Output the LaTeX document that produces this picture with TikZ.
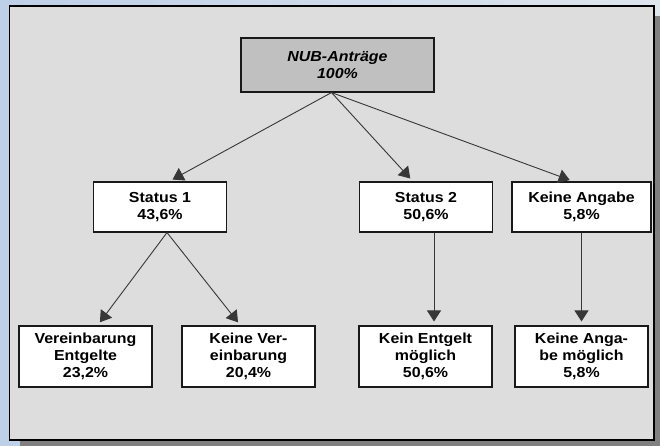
\documentclass[tikz,border=0pt]{standalone}
\usepackage{fontspec}
\setmainfont{Liberation Sans}[FakeStretch=1.1]
\usepackage{tikz}
\usetikzlibrary{arrows.meta}
\definecolor{bgblue}{RGB}{190,208,232}
\definecolor{bglight}{RGB}{222,229,237}
\definecolor{panelgray}{RGB}{221,221,221}
\definecolor{rootgray}{RGB}{192,192,192}
\definecolor{shadowgray}{RGB}{128,128,128}
\definecolor{linkgray}{RGB}{55,55,55}
\tikzset{
    box/.style={draw=black!90, line width=1.1pt, fill=white, inner sep=0pt,
        minimum width=133pt, minimum height=50pt, align=center,
        font=\fontsize{14.5}{16.8}\selectfont\bfseries},
    leafbox/.style={box, minimum height=61pt},
    rootbox/.style={box, fill=rootgray, minimum width=193pt, minimum height=54pt,
        font=\fontsize{14.5}{16.8}\selectfont\bfseries\itshape},
    link/.style={-{Triangle[width=14pt,length=11pt]}, linkgray, line width=0.9pt, shorten >=4pt}
}

\begin{document}
\begin{tikzpicture}[x=1pt, y=-1pt]
    \useasboundingbox (0,0) rectangle (660,445);
    \shade[left color=bgblue, right color=bglight] (0,0) rectangle (660,445);
    % Rahmen mit Schatten
    \fill[shadowgray] (20,16) rectangle (660,446);
    \draw[fill=panelgray, line width=1.5pt] (9.5,6) rectangle (654,440);

    \node[rootbox] (nub) at (337.5,65) {NUB-Anträge\\100\%};

    \node[box] (st1) at (160,207) {Status 1\\43,6\%};
    \node[box] (st2) at (426,207) {Status 2\\50,6\%};
    \node[box, minimum width=139pt] (kang) at (581.5,207) {Keine Angabe\\5,8\%};

    \node[leafbox] (ver) at (85.5,356.5) {Vereinbarung\\Entgelte\\23,2\%};
    \node[leafbox] (kver) at (248.5,356.5) {Keine Ver-\\einbarung\\20,4\%};
    \node[leafbox] (kent) at (425.5,356.5) {Kein Entgelt\\möglich\\50,6\%};
    \node[leafbox] (kmoe) at (581.5,356.5) {Keine Anga-\\be möglich\\5,8\%};

    % Pfeile
    \draw[link] ([xshift=-6pt]nub.south) -- ([xshift=9pt]st1.north);
    \draw[link] ([xshift=-6pt]nub.south) -- ([xshift=-13pt]st2.north);
    \draw[link] ([xshift=-6pt]nub.south) -- ([xshift=-8pt]kang.north);
    \draw[link] ([xshift=7pt]st1.south) -- ([xshift=12pt]ver.north);
    \draw[link] ([xshift=7pt]st1.south) -- ([xshift=-8pt]kver.north);
    \draw[link] ([xshift=8pt]st2.south) -- ([xshift=8.5pt]kent.north);
    \draw[link] (kang.south) -- (kmoe.north);
\end{tikzpicture}
\end{document}
